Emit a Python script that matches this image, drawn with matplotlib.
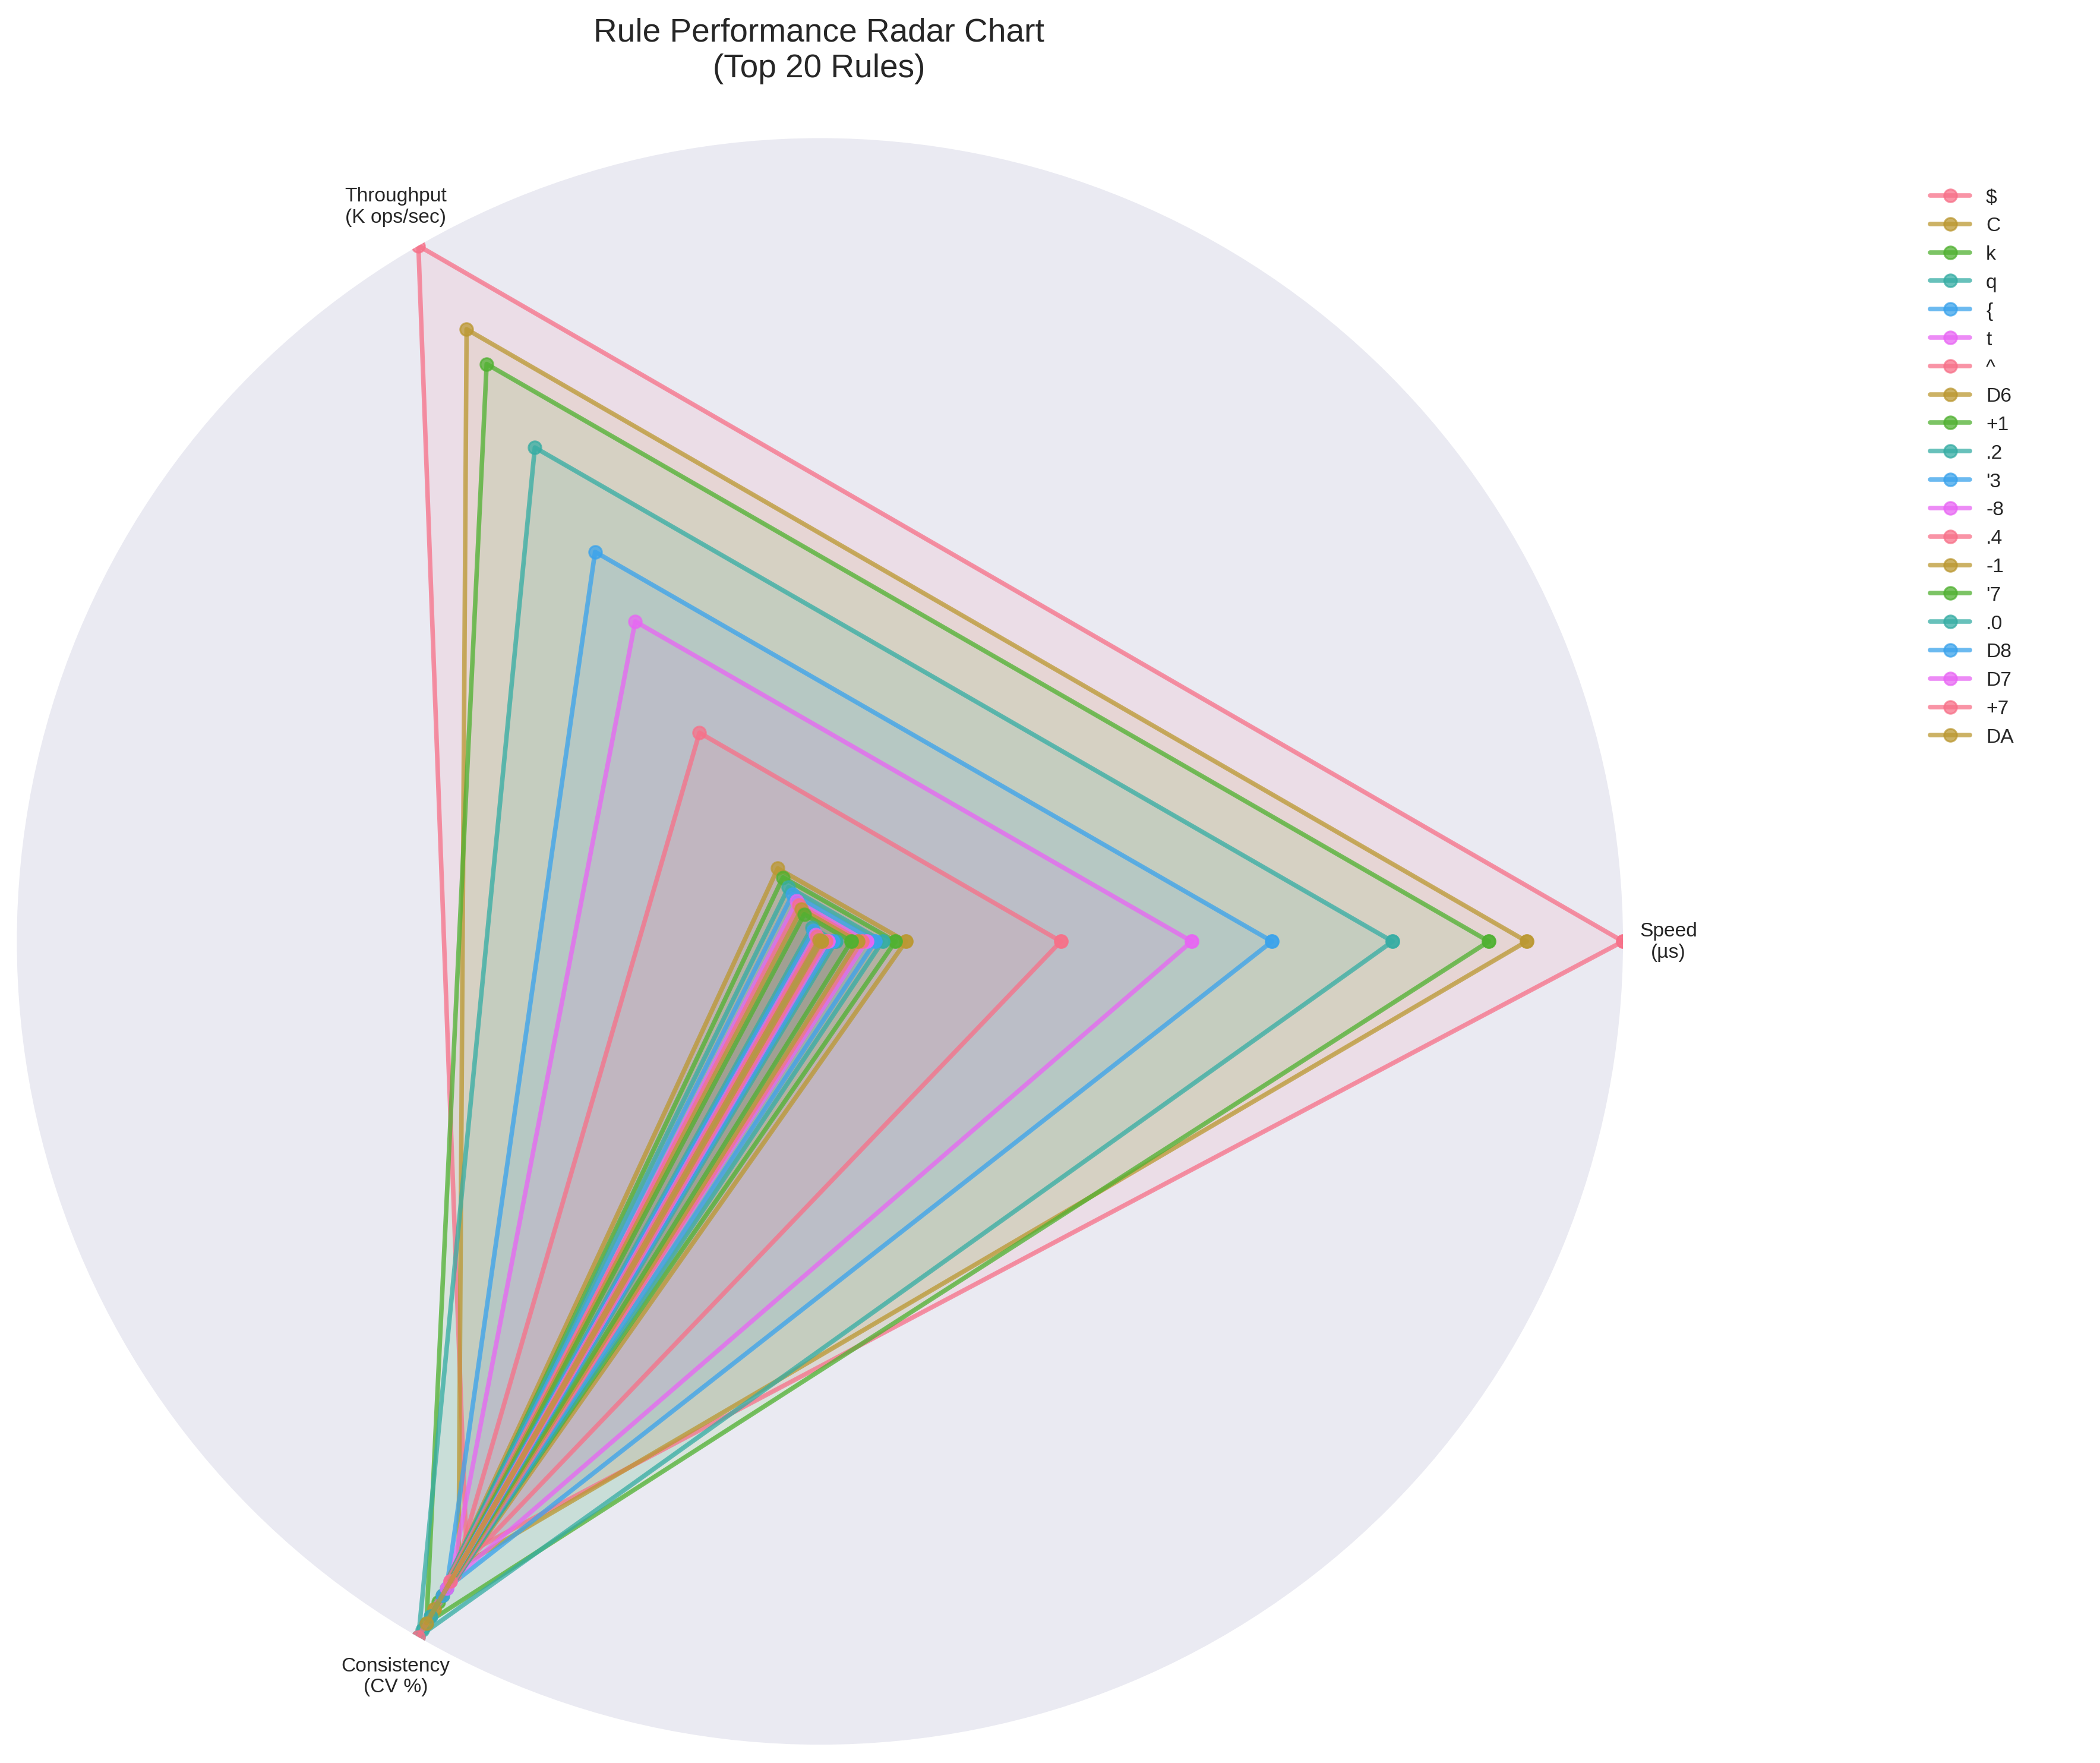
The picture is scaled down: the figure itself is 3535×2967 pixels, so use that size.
import numpy as np
import matplotlib
matplotlib.use("Agg")
import matplotlib.pyplot as plt
import seaborn as sns

sns.set_theme(style="darkgrid")
plt.rcParams['font.family'] = ['Liberation Sans', 'DejaVu Sans']

categories = ["Speed\n(µs)", "Throughput\n(K ops/sec)", "Consistency\n(CV %)"]
rules = ["$", "C", "k", "q", "{", "t", "^", "D6", "+1", ".2", "'3", "-8", ".4", "-1", "'7", ".0", "D8", "D7", "+7", "DA"]
speed = [1.0, 0.88, 0.833, 0.713, 0.563, 0.463, 0.30, 0.107, 0.094, 0.078, 0.069, 0.058, 0.052, 0.047, 0.039, 0.02, 0.016, 0.010, 0.007, 0.002]
throughput = [1.0, 0.88, 0.83, 0.71, 0.56, 0.46, 0.30, 0.105, 0.092, 0.078, 0.068, 0.058, 0.052, 0.046, 0.039, 0.02, 0.016, 0.010, 0.007, 0.002]
consistency = [0.88, 0.90, 0.98, 1.0, 0.93, 0.92, 0.91, 0.96, 0.95, 0.99, 0.97, 0.92, 1.0, 0.96, 0.94, 0.97, 0.94, 0.93, 0.92, 0.98]

colors = sns.color_palette("husl", 6)
angles = np.linspace(0, 2*np.pi, len(categories), endpoint=False).tolist()
angles_c = angles + angles[:1]

fig = plt.figure(figsize=(16.07, 13.49), dpi=220)
ax = fig.add_axes([0.0079, 0.0104, 0.765, 0.911], projection='polar')
for i, r in enumerate(rules):
    vals = [speed[i], throughput[i], consistency[i]]
    vals = vals + vals[:1]
    c = colors[i % 6]
    ax.plot(angles_c, vals, 'o-', linewidth=2.5, markersize=7, color=c, alpha=0.75, label=r)
    ax.fill(angles_c, vals, color=c, alpha=0.1)

ax.set_xticks(angles)
ax.set_xticklabels(categories, fontsize=11)
ax.set_ylim(0, 1)
ax.set_yticklabels([])
ax.grid(False)
ax.spines['polar'].set_visible(False)
ax.tick_params(axis='x', pad=12)

fig.suptitle("Rule Performance Radar Chart\n(Top 20 Rules)", fontsize=18, y=0.99, x=0.39)
ax.legend(loc='upper left', bbox_to_anchor=(1.18, 0.98), fontsize=11, frameon=False)

fig.savefig("out.png", dpi=220)
